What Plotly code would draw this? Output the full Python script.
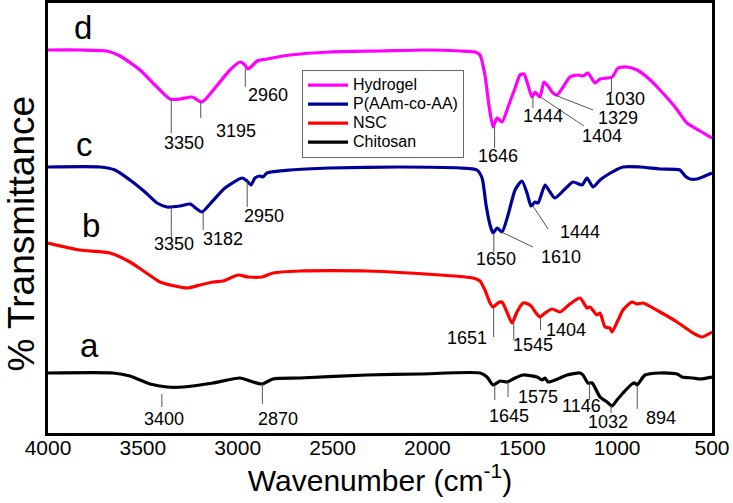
import plotly.graph_objects as go

# ---------------- data ----------------
hydrogel_wn = [4000, 3831, 3689, 3620, 3515, 3436, 3357, 3304, 3241, 3188, 3120, 3041, 2988, 2967, 2946, 2925,
               2898, 2846, 2724, 2514, 2250, 2002, 1828, 1749, 1723, 1697, 1676, 1654, 1633, 1607, 1575, 1538,
               1512, 1491, 1470, 1449, 1433, 1407, 1386, 1365, 1343, 1317, 1285, 1249, 1207, 1180, 1154, 1117,
               1090, 1027, 995, 948, 895, 837, 774, 695, 632, 563, 500]
hydrogel_t = [383, 383, 382, 377, 363, 348, 334, 334, 336, 331, 345, 363, 371, 369, 364, 367,
              372, 374, 378, 381, 382, 383, 382, 381, 378, 358, 328, 306, 315, 311, 326, 345,
              358, 359, 348, 336, 341, 336, 351, 347, 341, 338, 346, 356, 358, 357, 360, 350,
              354, 356, 365, 366, 363, 355, 343, 326, 310, 302, 295]

paa_wn = [4000, 3726, 3647, 3568, 3489, 3425, 3373, 3304, 3251, 3215, 3188, 3146, 3067, 2977, 2951, 2930,
          2909, 2883, 2867, 2846, 2724, 2514, 2145, 1828, 1739, 1712, 1691, 1670, 1654, 1633, 1607, 1575,
          1538, 1502, 1475, 1454, 1433, 1417, 1380, 1354, 1328, 1275, 1233, 1185, 1159, 1127, 1090, 1053,
          969, 879, 774, 669, 642, 616, 579, 537, 500]
paa_t = [266, 266, 263, 253, 241, 230, 226, 227, 229, 224, 221, 229, 245, 255, 252, 248,
         255, 257, 256, 260, 263, 265, 266, 265, 263, 255, 228, 208, 200, 205, 201, 218,
         243, 252, 240, 227, 231, 230, 248, 241, 235, 244, 251, 248, 255, 246, 253, 258,
         266, 266, 264, 263, 257, 254, 254, 257, 260]

nsc_wn = [4000, 3831, 3673, 3568, 3489, 3410, 3331, 3267, 3199, 3130, 3078, 2998, 2946, 2872, 2814, 2672,
          2319, 1934, 1760, 1723, 1697, 1670, 1654, 1628, 1607, 1581, 1554, 1528, 1496, 1470, 1449, 1428,
          1407, 1380, 1343, 1301, 1249, 1196, 1170, 1159, 1143, 1106, 1090, 1064, 1038, 1027, 995, 969,
          922, 895, 864, 774, 684, 600, 553, 500]
nsc_t = [190, 183, 180, 171, 161, 151, 147, 145, 148, 151, 152, 158, 156, 156, 160, 162,
         162, 158, 155, 152, 143, 130, 126, 130, 131, 121, 110, 121, 130, 129, 126, 120,
         116, 120, 124, 121, 129, 135, 128, 125, 126, 118, 120, 106, 105, 101, 113, 123,
         131, 129, 130, 121, 111, 100, 96, 101]

chitosan_wn = [4000, 3657, 3568, 3462, 3373, 3288, 3130, 2988, 2935, 2872, 2814, 2672, 2319, 2039, 1723, 1686,
               1654, 1617, 1580, 1538, 1496, 1422, 1396, 1380, 1364, 1301, 1264, 1196, 1180, 1154, 1132, 1090,
               1053, 1027, 1001, 969, 922, 906, 895, 853, 774, 684, 658, 600, 563, 500]
chitosan_t = [60, 60, 57, 49, 46, 46, 50, 55, 52, 49, 54, 55, 58, 59, 60, 56,
              48, 52, 51, 55, 58, 56, 53, 55, 51, 55, 58, 60, 58, 50, 50, 36,
              31, 27, 33, 40, 49, 50, 48, 58, 60, 59, 56, 55, 54, 56]

series_names = ["Hydrogel", "P(AAm-co-AA)", "NSC", "Chitosan"]
x_ticks = [4000, 3500, 3000, 2500, 2000, 1500, 1000, 500]

# peak labels per curve (label value)
peaks_d = [3350, 3195, 2960, 1646, 1444, 1404, 1329, 1030]
peaks_c = [3350, 3182, 2950, 1650, 1610, 1444]
peaks_b = [1651, 1545, 1404]
peaks_a = [3400, 2870, 1645, 1575, 1146, 1032, 894]
curve_letters = ["d", "c", "b", "a"]

# ---------------- layout helpers (positions only) ----------------
# leader: (line start y, line end x, line end y, label x, label y)
lead_d = [(334, 3350, 300, 3283, 290), (331, 3195, 315, 3009, 302), (364, 2960, 346, 2840, 338),
          (306, 1646, 285, 1628, 277), (336, 1444, 325, 1391, 317), (336, 1175, 307, 1080, 297),
          (338, 1127, 323, 996, 315), (356, 1030, 340, 959, 334)]
lead_c = [(226, 3350, 195, 3336, 189), (221, 3182, 203, 3078, 194), (252, 2950, 226, 2861, 217),
          (200, 1650, 181, 1639, 174), (201, 1444, 186, 1296, 176), (227, 1364, 204, 1196, 201)]
lead_b = [(126, 1651, 96, 1791, 95), (110, 1545, 93, 1444, 88), (116, 1404, 103, 1270, 103)]
lead_a = [(39, 3400, 26, 3389, 14), (49, 2870, 29, 2788, 14), (48, 1645, 33, 1570, 17),
          (51, 1575, 36, 1417, 36), (50, 1146, 33, 1190, 27), (27, 1032, 20, 1048, 11),
          (48, 894, 24, 769, 15)]
letter_pos = [(3816, 406), (3805, 289), (3773, 208), (3779, 88)]

colors = ["#FF00FF", "#000099", "#FF0000", "#000000"]
font_family = "Liberation Sans, Arial, sans-serif"

fig = go.Figure()
for name, wn, t, col in zip(series_names,
                            [hydrogel_wn, paa_wn, nsc_wn, chitosan_wn],
                            [hydrogel_t, paa_t, nsc_t, chitosan_t], colors):
    fig.add_trace(go.Scatter(x=wn, y=t, mode="lines", name=name,
                             line=dict(color=col, width=3.2, shape="spline", smoothing=0.6)))

shapes = []
annotations = []
for peaks, leads in [(peaks_d, lead_d), (peaks_c, lead_c), (peaks_b, lead_b), (peaks_a, lead_a)]:
    for p, (y0, x1, y1, lx, ly) in zip(peaks, leads):
        shapes.append(dict(type="line", xref="x", yref="y", x0=p, y0=y0, x1=x1, y1=y1,
                           line=dict(color="#555555", width=1)))
        annotations.append(dict(x=lx, y=ly, xref="x", yref="y", text=str(p), showarrow=False,
                                font=dict(size=18, color="black", family=font_family)))
for letter, (lx, ly) in zip(curve_letters, letter_pos):
    annotations.append(dict(x=lx, y=ly, xref="x", yref="y", text=letter, showarrow=False,
                            font=dict(size=33, color="black", family=font_family)))
# y-axis title as rotated text
annotations.append(dict(x=-0.040, y=0.465, xref="paper", yref="paper", text="% Transmittance",
                        textangle=-90, showarrow=False, xanchor="center", yanchor="middle",
                        font=dict(size=37, color="black", family=font_family)))

fig.update_layout(
    width=733, height=503,
    margin=dict(l=48, r=21, t=3, b=70),
    paper_bgcolor="white", plot_bgcolor="white",
    font=dict(family=font_family, color="black"),
    shapes=shapes, annotations=annotations,
    legend=dict(x=0.3825, y=0.845, xanchor="left", yanchor="top",
                bgcolor="white", bordercolor="#666666", borderwidth=1,
                font=dict(size=12, family=font_family), tracegroupgap=0,
                itemwidth=40),
    showlegend=True,
)
fig.update_xaxes(range=[4000, 500], tickvals=x_ticks, ticktext=[str(v) for v in x_ticks],
                 showgrid=False, zeroline=False, showline=True, linecolor="black", linewidth=2.5,
                 mirror=True, ticks="", tickfont=dict(size=21), ticklabelstandoff=-6,
                 title=dict(text="Wavenumber (cm<sup>-1</sup>)", font=dict(size=30), standoff=6),
                 automargin=False)
fig.update_yaxes(range=[0, 430], showticklabels=False, showgrid=False, zeroline=False,
                 showline=True, linecolor="black", linewidth=2.5, mirror=True, ticks="",
                 automargin=False)

# legend entry names drawn at 16px while row spacing follows the 12px legend font
for tr in fig.data:
    tr.name = '<span style="font-size:16px">' + tr.name + '</span>'

fig.write_html("out.html", config={"displayModeBar": False},
               post_script="document.body.style.margin='0px';")
